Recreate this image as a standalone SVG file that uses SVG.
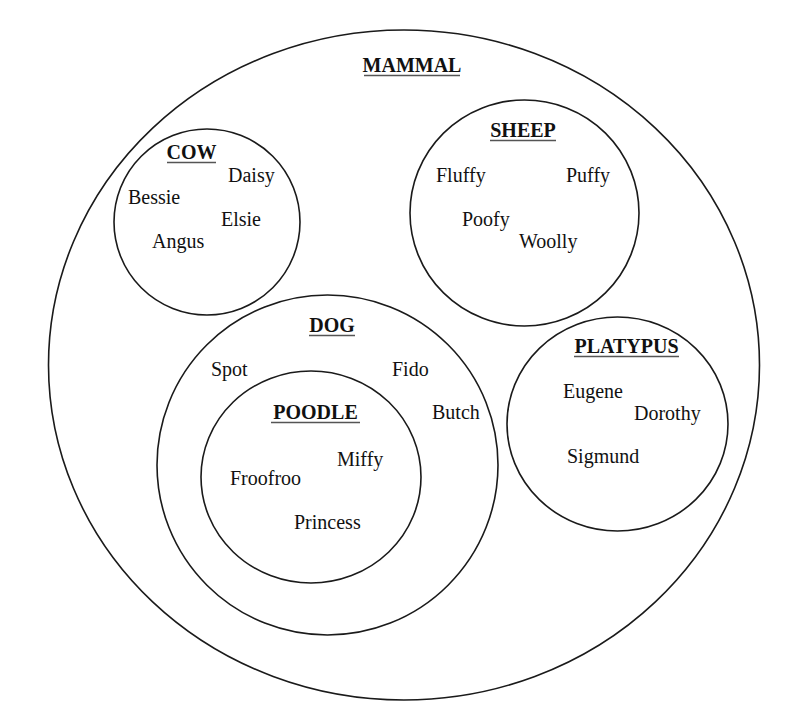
<svg xmlns="http://www.w3.org/2000/svg" width="807" height="721" viewBox="0 0 807 721">
<style>
.set{fill:none;stroke:#1a1a1a;stroke-width:1.6}
.t{font-family:"Liberation Serif","Times New Roman",serif;font-size:20px;fill:#111}
.h{font-family:"Liberation Serif","Times New Roman",serif;font-size:20px;font-weight:bold;fill:#111;text-anchor:middle}
.u{stroke:#555;stroke-width:1.3}
</style>
<rect width="807" height="721" fill="#fff"/>
<g id="mammal">
<ellipse class="set" cx="404" cy="365" rx="355.5" ry="335"/>
<text class="h" x="412" y="72">MAMMAL</text>
<line class="u" x1="364" y1="75.5" x2="460" y2="75.5"/>
</g>
<g id="cow">
<ellipse class="set" cx="207" cy="222" rx="93" ry="93"/>
<text class="h" x="191.5" y="159">COW</text>
<line class="u" x1="167" y1="162.5" x2="216" y2="162.5"/>
<text class="t" x="228" y="182">Daisy</text>
<text class="t" x="128" y="204">Bessie</text>
<text class="t" x="221" y="226">Elsie</text>
<text class="t" x="152" y="248">Angus</text>
</g>
<g id="sheep">
<ellipse class="set" cx="524.5" cy="213" rx="114.5" ry="113"/>
<text class="h" x="523" y="137">SHEEP</text>
<line class="u" x1="490" y1="140.5" x2="556" y2="140.5"/>
<text class="t" x="436" y="182">Fluffy</text>
<text class="t" x="566" y="182">Puffy</text>
<text class="t" x="462" y="226">Poofy</text>
<text class="t" x="519" y="248">Woolly</text>
</g>
<g id="dog">
<ellipse class="set" cx="327.5" cy="465" rx="170.5" ry="170"/>
<text class="h" x="332" y="332">DOG</text>
<line class="u" x1="309" y1="335.5" x2="355" y2="335.5"/>
<text class="t" x="211" y="376">Spot</text>
<text class="t" x="392" y="376">Fido</text>
<text class="t" x="432" y="419">Butch</text>
</g>
<g id="poodle">
<ellipse class="set" cx="311" cy="477" rx="110" ry="106"/>
<text class="h" x="315.5" y="419">POODLE</text>
<line class="u" x1="271" y1="422.5" x2="360" y2="422.5"/>
<text class="t" x="337" y="466">Miffy</text>
<text class="t" x="230" y="485">Froofroo</text>
<text class="t" x="294" y="529">Princess</text>
</g>
<g id="platypus">
<ellipse class="set" cx="617.5" cy="424" rx="110.5" ry="107"/>
<text class="h" x="626.5" y="353">PLATYPUS</text>
<line class="u" x1="574" y1="356.5" x2="679" y2="356.5"/>
<text class="t" x="563" y="398">Eugene</text>
<text class="t" x="634" y="420">Dorothy</text>
<text class="t" x="567" y="463">Sigmund</text>
</g>
</svg>
